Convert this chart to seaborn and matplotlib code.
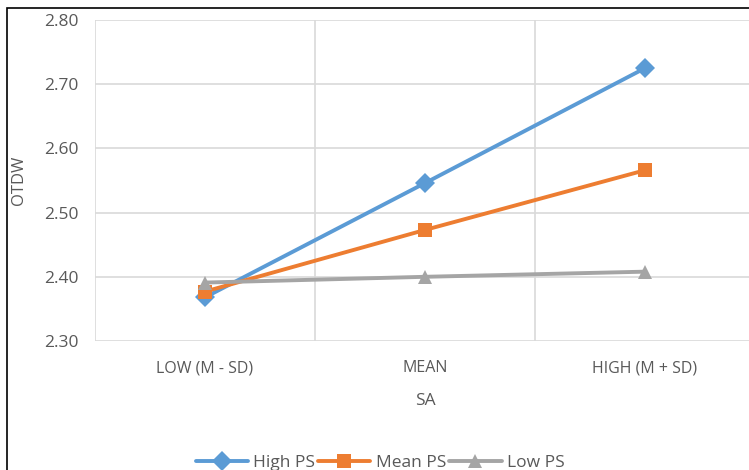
"""
Simple slopes plot: OTDW by SA at three levels of PS
Output: out.png
"""

import matplotlib.pyplot as plt
import matplotlib.patches as mpatches
import numpy as np
import pandas as pd
import seaborn as sns

sns.set_theme(style='white')
plt.rcParams['font.family'] = ['Open Sans', 'DejaVu Sans']

TEXT = '#595959'
GRID = '#D9D9D9'

# data
sa_levels = ['LOW (M - SD)', 'MEAN', 'HIGH (M + SD)']
series = ['High PS', 'Mean PS', 'Low PS']
high_ps = [2.368, 2.546, 2.725]
mean_ps = [2.377, 2.473, 2.566]
low_ps = [2.391, 2.400, 2.408]

colors = ['#5B9BD5', '#ED7D31', '#A5A5A5']
markers = ['D', 's', '^']

df = pd.DataFrame({
    'pos': list(range(len(sa_levels))) * 3,
    'OTDW': high_ps + mean_ps + low_ps,
    'group': [s for s in series for _ in sa_levels],
})

fig = plt.figure(figsize=(7.49, 4.70), dpi=100)
ax = fig.add_axes([95 / 749, 1 - 341 / 470, 660 / 749, 321 / 470])

sns.lineplot(data=df, x='pos', y='OTDW', hue='group', style='group',
             hue_order=series, style_order=series, palette=colors,
             markers=markers, dashes=False, linewidth=2.8, markersize=10,
             markeredgewidth=0, ax=ax, legend=False)

ax.set_xlim(-0.5, 2.5)
ax.set_ylim(2.30, 2.80)
ax.set_yticks(np.arange(2.30, 2.81, 0.10))
ax.set_yticklabels([f'{v:.2f}' for v in np.arange(2.30, 2.81, 0.10)],
                   fontsize=12.5, color=TEXT)
ax.set_xticks(range(len(sa_levels)))
ax.set_xticklabels(sa_levels, fontsize=11.5, color=TEXT)
ax.set_xticks([-0.5, 0.5, 1.5, 2.5], minor=True)
ax.tick_params(axis='both', which='both', length=0)
ax.tick_params(axis='x', pad=14)
ax.tick_params(axis='y', pad=12)

ax.yaxis.grid(True, color=GRID, linewidth=1.2)
ax.xaxis.grid(True, which='minor', color=GRID, linewidth=1.2)
ax.xaxis.grid(False, which='major')
for s in ax.spines.values():
    s.set_visible(False)

ax.set_xlabel('SA', fontsize=12.5, color=TEXT, labelpad=12)
ax.set_ylabel('OTDW', fontsize=12, color=TEXT, labelpad=12)

handles = [plt.Line2D([], [], color=c, marker=m, linewidth=2.8, markersize=10,
                      markeredgewidth=0, label=s)
           for c, m, s in zip(colors, markers, series)]
leg = fig.legend(handles=handles, loc='center', ncol=3,
                 bbox_to_anchor=(380 / 749, 1 - 463 / 470), frameon=False,
                 fontsize=12.5, handlelength=3.0, handletextpad=0.3,
                 columnspacing=0.2)
for t in leg.get_texts():
    t.set_color(TEXT)

# black frame of the original screenshot
fig.patches.append(mpatches.Rectangle((7 / 749, -0.2), 1.2, 1 - 8 / 470 + 0.2,
                                      transform=fig.transFigure, fill=False,
                                      edgecolor='black', linewidth=1.2))

fig.savefig('out.png', dpi=100)
plt.close(fig)
